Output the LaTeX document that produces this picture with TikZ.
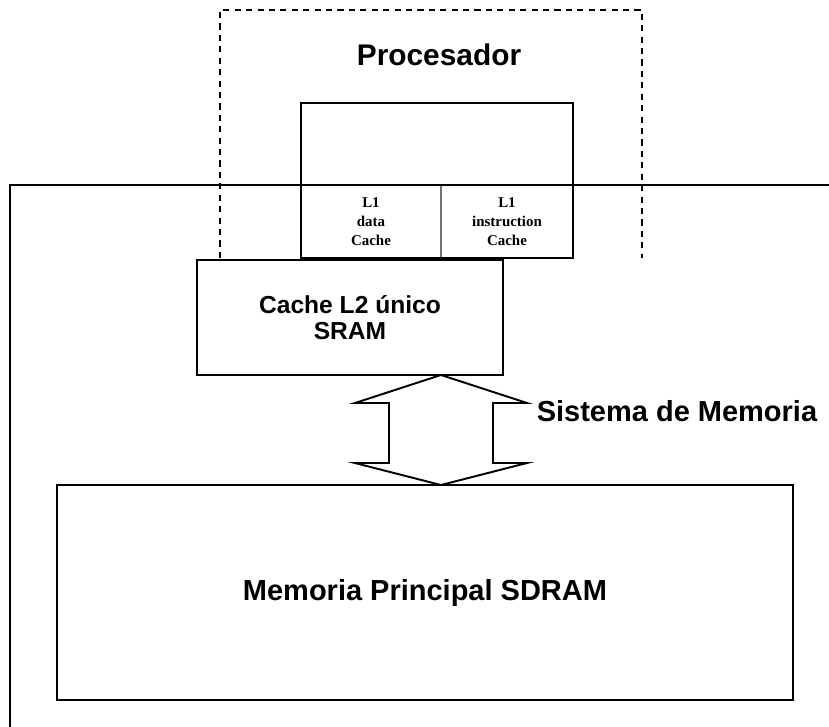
\documentclass[tikz,border=0pt]{standalone}
\usepackage{fontspec}
\setmainfont{Liberation Serif}
\setsansfont{Liberation Sans}
\usetikzlibrary{calc}
\tikzset{
  blk/.style={draw=black, line width=1.1pt, inner sep=0pt, outer sep=0pt, align=center, font=\sffamily\bfseries},
  cell/.style={inner sep=0pt, outer sep=0pt, align=center, font=\rmfamily\bfseries\fontsize{8.5}{11}\selectfont},
  frame/.style={line width=1.1pt},
  procline/.style={dash pattern=on 3.5pt off 3pt, line width=1pt},
  lbl/.style={inner sep=0pt, align=center},
  bus/.style={draw=black, line width=1.1pt, fill=white, line join=miter}
}

\begin{document}
\begin{tikzpicture}[x=0.02cm, y=-0.02cm]
  \useasboundingbox (0,0) rectangle (829,727);
  % processor (dashed, open at the bottom)
  \draw[procline] (220,258) -- (220,10) -- (642,10) -- (642,258);
  \node[lbl, font=\sffamily\bfseries\fontsize{17}{19}\selectfont] (proc) at (439,55) {Procesador};
  % L1 caches
  \node[cell, minimum width=2.8cm, minimum height=1.46cm] (l1d) at (371,221.5) {L1\\data\\Cache};
  \node[cell, minimum width=2.64cm, minimum height=1.46cm] (l1i) at (507,221.5) {L1\\instruction\\Cache};
  \draw[black!55, line width=0.6pt] (l1d.north east) -- (l1d.south east);
  \node[blk, minimum width=5.44cm, minimum height=3.1cm] (l1) at (437,180.5) {};
  % memory system frame
  \draw[frame] (10,727) -- (10,185) -- (829,185);
  \node[blk, minimum width=6.12cm, minimum height=2.3cm, font=\sffamily\bfseries\fontsize{14}{15}\selectfont] (l2) at (350,317.5) {Cache L2 único\\SRAM};
  \node[blk, minimum width=14.72cm, minimum height=4.3cm, font=\sffamily\bfseries\fontsize{16.5}{18}\selectfont] (mem) at (425,592.5) {Memoria Principal SDRAM};
  \node[lbl, font=\sffamily\bfseries\fontsize{16.5}{19}\selectfont] (sis) at (677,411) {Sistema de Memoria};
  % bus between L2 and main memory
  \coordinate (bt) at (l1d.south east |- l2.south);
  \coordinate (bb) at (l1d.south east |- mem.north);
  \draw[bus] (bt) -- ++(86,28) -- ++(-34,0) -- ++(0,60) -- ++(34,0) -- (bb)
    -- ++(-86,-22) -- ++(34,0) -- ++(0,-60) -- ++(-34,0) -- cycle;
\end{tikzpicture}
\end{document}
